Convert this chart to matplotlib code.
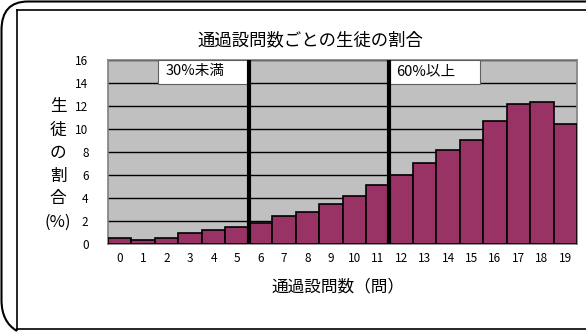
import matplotlib
matplotlib.use("Agg")
import matplotlib.pyplot as plt
from matplotlib.path import Path
from matplotlib.patches import PathPatch, Rectangle
from matplotlib.transforms import Affine2D
from matplotlib.lines import Line2D

plt.rcParams['font.family'] = ['Noto Sans CJK JP', 'DejaVu Sans']

# 通過設問数 (問) と各設問数の生徒の割合 (%)
questions = list(range(20))
shares = [0.5, 0.35, 0.55, 0.93, 1.2, 1.5, 1.85, 2.43, 2.8, 3.5,
          4.17, 5.1, 6.0, 7.07, 8.2, 9.04, 10.7, 12.17, 12.37, 10.43]
y_ticks = [0, 2, 4, 6, 8, 10, 12, 14, 16]
title = "通過設問数ごとの生徒の割合"
x_label = "通過設問数（問）"
y_label_chars = ["生", "徒", "の", "割", "合", "(%)"]
band_labels = ["30%未満", "60%以上"]
band_edges = [5.5, 11.5]

W, H = 586, 333
fig = plt.figure(figsize=(W / 100, H / 100), dpi=100)
fig.patch.set_facecolor("white")

# pixel -> figure coordinates (origin top-left)
px = Affine2D().scale(1 / W, -1 / H).translate(0, 1) + fig.transFigure

# rounded outer frame
verts = [(586, 1.5), (28, 1.5), (1.5, 1.5), (1.5, 30), (1.5, 300),
         (1.5, 322), (17, 331)]
codes = [Path.MOVETO, Path.LINETO, Path.CURVE3, Path.CURVE3, Path.LINETO,
         Path.CURVE3, Path.CURVE3]
fig.patches.append(PathPatch(Path(verts, codes), fill=False, lw=1.5,
                             edgecolor="black", transform=px))
# inner chart border
for xs, ys in [((17, 586), (10, 10)), ((17, 17), (10, 330)),
               ((17, 586), (329, 329))]:
    fig.lines.append(Line2D(xs, ys, color="black", lw=1.2, transform=px))

ax = fig.add_axes([108 / W, 1 - 244 / H, 469 / W, 184 / H])
ax.set_facecolor("#C0C0C0")
ax.bar(questions, shares, width=1.0, color="#993366", edgecolor="black",
       linewidth=1.2, zorder=3)
ax.set_xlim(-0.5, 19.5)
ax.set_ylim(0, 16)
ax.set_yticks(y_ticks)
ax.set_xticks(questions)
ax.tick_params(length=0, labelsize=8.5, colors="black", pad=6)
ax.tick_params(axis="y", pad=14)
ax.yaxis.grid(True, color="black", lw=1.0, zorder=1)
ax.set_axisbelow(True)
for s in ax.spines.values():
    s.set_color("#808080")
    s.set_linewidth(1.2)

for xe in band_edges:
    ax.axvline(xe, color="black", lw=3, zorder=5)

# band labels in white boxes at the top of the plot
ax.add_patch(Rectangle((1.63, 13.95), 5.5 - 1.63, 2.05, facecolor="white",
                       edgecolor="#606060", lw=0.8, zorder=4))
ax.text(1.95, 15.0, band_labels[0], ha="left", va="center", fontsize=10.5,
        zorder=6)
ax.add_patch(Rectangle((11.5, 13.95), 3.85, 2.05, facecolor="white",
                       edgecolor="#606060", lw=0.8, zorder=4))
ax.text(11.8, 15.0, band_labels[1], ha="left", va="center", fontsize=10.5,
        zorder=6)

fig.text(310 / W, 1 - 40 / H, title, ha="center", va="center", fontsize=12.5)
fig.text(338 / W, 1 - 287 / H, x_label, ha="center", va="center",
         fontsize=12)
for i, ch in enumerate(y_label_chars):
    fig.text(58 / W, 1 - (107 + i * 23) / H, ch, ha="center", va="center",
             fontsize=12)

fig.savefig("out.png", dpi=100)
